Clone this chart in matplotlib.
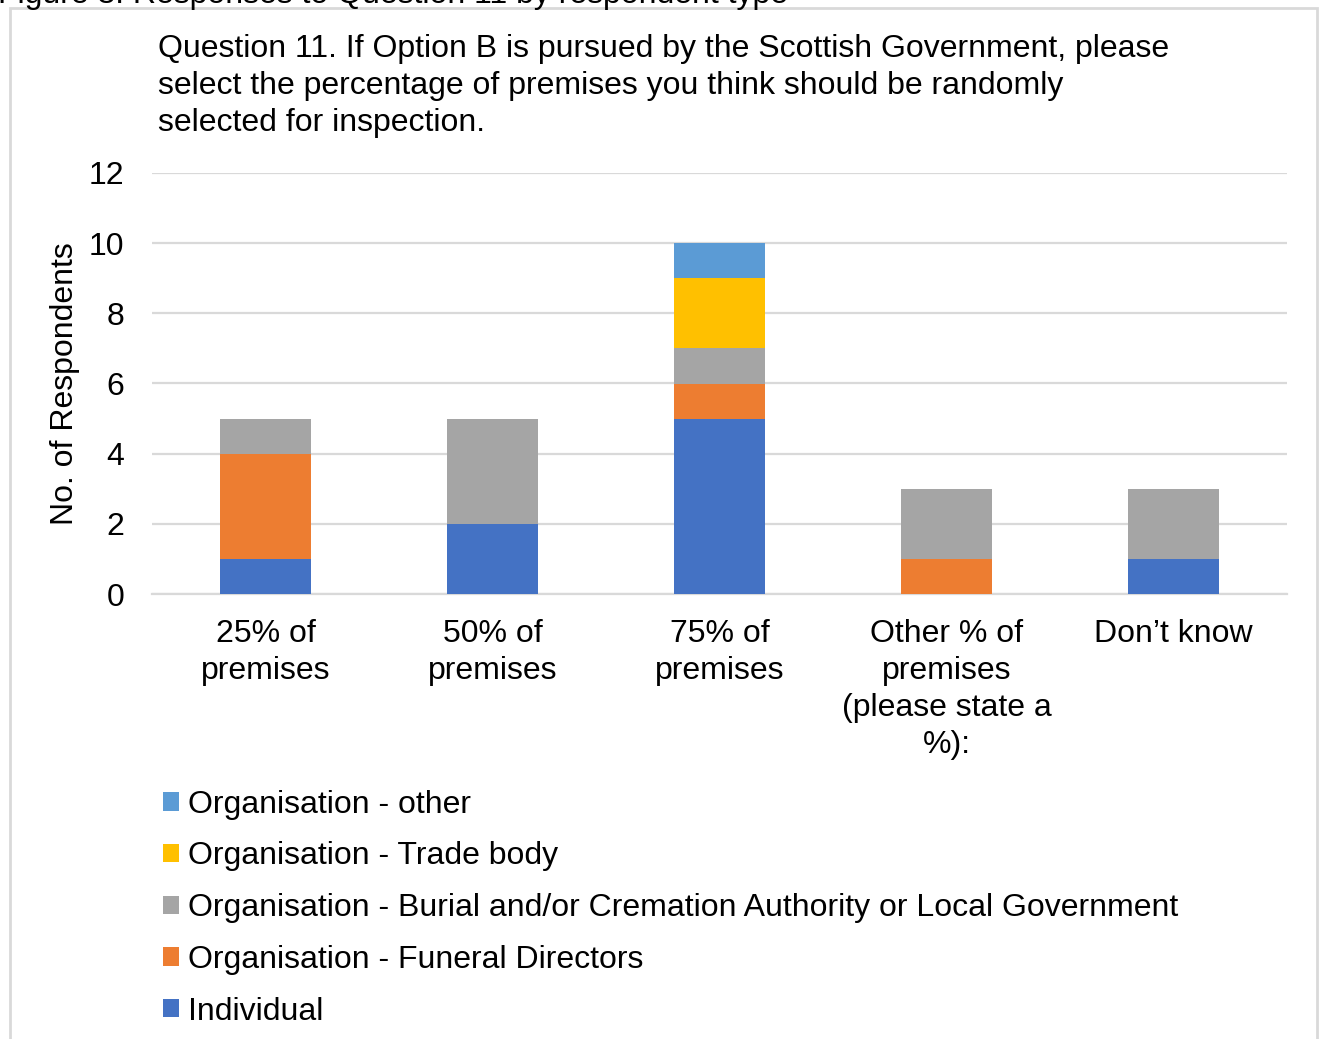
import matplotlib
matplotlib.use("Agg")
import matplotlib.pyplot as plt
from matplotlib.patches import Rectangle
import numpy as np

plt.rcParams['font.family'] = ['Liberation Sans', 'DejaVu Sans']

# Categories and responses per respondent type
categories = ["25% of\npremises", "50% of\npremises", "75% of\npremises",
              "Other % of\npremises\n(please state a\n%):", "Don\u2019t know"]
individual = [1, 2, 5, 0, 1]
funeral_directors = [3, 0, 1, 1, 0]
burial_local_gov = [1, 3, 1, 2, 2]
trade_body = [0, 0, 2, 0, 0]
org_other = [0, 0, 1, 0, 0]

series_names = ["Individual",
                "Organisation - Funeral Directors",
                "Organisation - Burial and/or Cremation Authority or Local Government",
                "Organisation - Trade body",
                "Organisation - other"]
series_values = [individual, funeral_directors, burial_local_gov, trade_body, org_other]
colors = ["#4472C4", "#ED7D31", "#A5A5A5", "#FFC000", "#5B9BD5"]

FS = 23

fig = plt.figure(figsize=(13.2, 10.39), dpi=100)
ax = fig.add_axes([152 / 1320, 1 - 594 / 1039, 1135 / 1320, 421 / 1039])

x = np.arange(len(categories))
bottom = np.zeros(len(categories))
handles = []
for name, vals, col in zip(series_names, series_values, colors):
    vals = np.array(vals, dtype=float)
    b = ax.bar(x, vals, width=0.4, bottom=bottom, color=col, label=name, zorder=3)
    handles.append(b)
    bottom += vals

ax.set_xlim(-0.5, len(categories) - 0.5)
ax.set_ylim(0, 12)
ax.set_yticks(range(0, 13, 2))
ax.set_xticks(x)
ax.set_xticklabels(categories, fontsize=FS, linespacing=1.3)
ax.tick_params(axis='y', labelsize=FS, length=0, pad=20)
ax.tick_params(axis='x', length=0, pad=18)
ax.grid(axis='y', color='#D9D9D9', linewidth=1.6, zorder=0)
for side in ['top', 'right', 'left']:
    ax.spines[side].set_visible(False)
ax.spines['bottom'].set_color('#D9D9D9')
ax.spines['bottom'].set_linewidth(1.6)
ax.set_ylabel("No. of Respondents", fontsize=FS, labelpad=6)

# question text above the plot
fig.text(158 / 1320, 1 - 34 / 1039,
         "Question 11. If Option B is pursued by the Scottish Government, please\n"
         "select the percentage of premises you think should be randomly\n"
         "selected for inspection.",
         fontsize=FS, va='top', ha='left', linespacing=1.3)

# legend, reversed so the top series is listed first
leg = fig.legend(handles[::-1], series_names[::-1], loc='upper left',
                 bbox_to_anchor=(134 / 1320, 1 - 761 / 1039), frameon=False,
                 fontsize=FS, handlelength=0.5, handleheight=0.5,
                 handletextpad=0.3, labelspacing=0.68)

# caption line partly cut off at the top edge
fig.text(-2 / 1320, 1 - 3 / 1039,
         "Figure 3: Responses to Question 11 by respondent type",
         fontsize=FS, va='baseline', ha='left')

# light border around the chart
fig.patches.append(Rectangle((10 / 1320, -0.05), 1307 / 1320, 1.05 - 8 / 1039,
                             transform=fig.transFigure, fill=False,
                             edgecolor='#D9D9D9', linewidth=2))

fig.savefig("out.png", dpi=100)
